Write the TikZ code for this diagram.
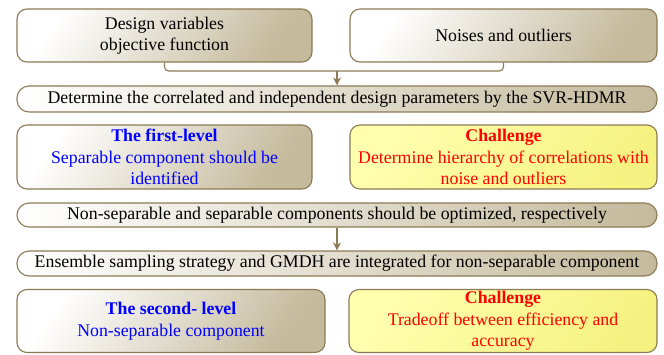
\documentclass[tikz,border=0pt]{standalone}
\usepackage{fontspec}
\setmainfont{Liberation Serif}
\usetikzlibrary{arrows.meta}
\definecolor{edgec}{HTML}{8C7A55}
\definecolor{tanc}{HTML}{C4BA9C}
\definecolor{yelA}{HTML}{FFFFAE}
\definecolor{yelB}{HTML}{F6F282}
\definecolor{myblue}{HTML}{0000FF}
\definecolor{myred}{HTML}{FF0000}
\begin{document}
\begin{tikzpicture}[x=1pt,y=-1pt,
  txt/.style={font=\fontsize{17.8}{21.5}\selectfont, align=center, inner sep=0pt},
  box/.style={txt, draw=edgec, line width=1.1pt, rounded corners=10pt,
    left color=white, right color=tanc, shading angle=55},
  ybox/.style={txt, draw=edgec, line width=1.1pt, rounded corners=10pt,
    left color=yelA, right color=yelB, shading angle=55},
  bar/.style={txt, draw=edgec, line width=1.1pt, rounded corners=12pt,
    left color=white, right color=tanc, minimum width=640pt},
  conn/.style={draw=edgec, line width=1.1pt, rounded corners=4pt},
  arr/.style={conn, -{Stealth[length=8pt,width=8pt]}}
]
\useasboundingbox (0,0) rectangle (664,354);

\node[box, minimum width=295pt, minimum height=53pt] (b1) at (164.5,35.5)
  {Design variables\\objective function};
\node[box, minimum width=307pt, minimum height=53pt] (b2) at (503.5,35.5)
  {Noises and outliers};
\node[bar, minimum height=26pt] (r1) at (337,99)
  {Determine the correlated and independent design parameters by the SVR-HDMR};

\node[box, text=myblue, minimum width=295pt, minimum height=64pt] (b3) at (164.5,157)
  {\textbf{The first-level}\\Separable component should be\\identified};
\node[ybox, text=myred, minimum width=307pt, minimum height=64pt] (b4) at (503.5,157)
  {\textbf{Challenge}\\Determine hierarchy of correlations with\\noise and outliers};

\node[bar, minimum height=24pt] (r2) at (337,215)
  {Non-separable and separable components should be optimized, respectively};
\node[bar, minimum height=25pt] (r3) at (337,263.5)
  {Ensemble sampling strategy and GMDH are integrated for non-separable component};

\node[box, text=myblue, minimum width=308pt, minimum height=63pt] (b5) at (171,321)
  {\textbf{The second- level}\\Non-separable component};
\node[ybox, text=myred, minimum width=308pt, minimum height=63pt] (b6) at (503,321)
  {\textbf{Challenge}\\Tradeoff between efficiency and\\accuracy};

\coordinate (m) at (337,71);
\draw[conn] (b1.south) |- (m);
\draw[conn] (b2.south) |- (m);
\draw[arr] (m) -- (m |- r1.north);
\draw[arr] (r2.south) -- (r3.north);
\end{tikzpicture}
\end{document}
